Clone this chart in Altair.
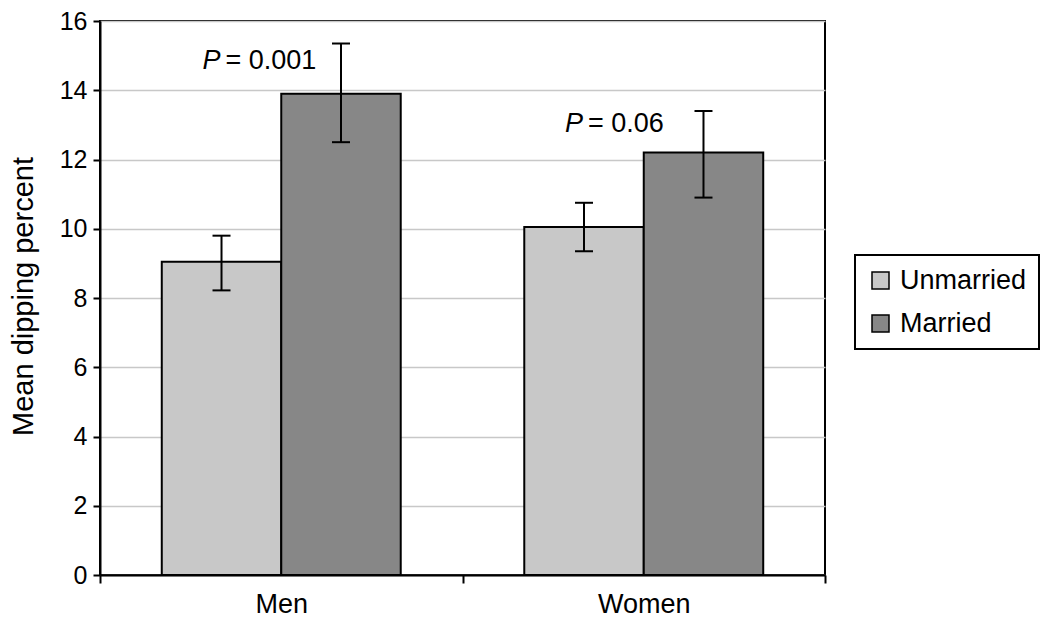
import altair as alt
import pandas as pd

# ---- data ----
groups = ["Men", "Men", "Women", "Women"]
status = ["Unmarried", "Married", "Unmarried", "Married"]
means = [9.05, 13.9, 10.05, 12.2]
lower = [8.22, 12.5, 9.35, 10.9]
upper = [9.8, 15.35, 10.75, 13.4]

p_groups = ["Men", "Women"]
p_status = ["Unmarried", "Unmarried"]
p_letter = ["P", "P"]
p_text = ["= 0.001", "= 0.06"]
p_y = [14.62, 12.8]

group_order = ["Men", "Women"]
status_order = ["Unmarried", "Married"]
colors = ["#c8c8c8", "#878787"]
y_ticks = [0, 2, 4, 6, 8, 10, 12, 14, 16]

df = pd.DataFrame(dict(group=groups, status=status, mean=means, lower=lower, upper=upper))
pdf = pd.DataFrame(dict(group=p_groups, status=p_status, letter=p_letter, text=p_text, y=p_y))

FONT = "Liberation Sans"
YT = "Mean dipping percent"

x_enc = alt.X(
    "group:N",
    sort=group_order,
    title=None,
    scale=alt.Scale(domain=group_order, paddingInner=0, paddingOuter=0),
    axis=alt.Axis(
        tickBand="extent", labelAngle=0, labelFontSize=27, labelFont=FONT,
        labelColor="black", tickSize=8, tickWidth=2, tickColor="black",
        domainColor="black", domainWidth=2, labelPadding=8, grid=False,
    ),
)
xo_enc = alt.XOffset(
    "status:N",
    sort=status_order,
    scale=alt.Scale(domain=status_order, paddingInner=0, paddingOuter=0.517),
)
y_scale = alt.Scale(domain=[0, 16], nice=False)
y_axis = alt.Axis(
    values=y_ticks, title=YT, titleFont=FONT, titleFontSize=29, titleFontWeight="normal",
    titleColor="black", titleAngle=-90, titleX=-68, titleY=275, titleBaseline="alphabetic",
    titleAlign="center",
    labelFont=FONT, labelFontSize=25, labelColor="black", labelPadding=6,
    tickSize=7, tickWidth=2, tickColor="black", domainColor="black", domainWidth=2,
    grid=True, gridColor="#c8c8c8", gridWidth=1.5,
)

base = alt.Chart(df)

bars = base.mark_bar(stroke="black", strokeWidth=2).encode(
    x=x_enc,
    xOffset=xo_enc,
    y=alt.Y("mean:Q", scale=y_scale, axis=y_axis, title=YT),
    color=alt.Color(
        "status:N",
        sort=status_order,
        scale=alt.Scale(domain=status_order, range=colors),
        legend=alt.Legend(
            title=None, orient="none", legendX=755, legendY=234,
            symbolType="square", symbolSize=289, symbolStrokeColor="black",
            symbolStrokeWidth=1.5, labelFont=FONT, labelFontSize=27, labelColor="black",
            fillColor="white", strokeColor="black", padding=12, rowPadding=15,
            labelOffset=6, symbolOpacity=1,
        ),
    ),
)

rules = base.mark_rule(color="black", strokeWidth=2).encode(
    x=alt.X("group:N", sort=group_order),
    xOffset=alt.XOffset("status:N", sort=status_order),
    y=alt.Y("lower:Q", title=YT),
    y2="upper:Q",
)

caps_top = base.mark_tick(color="black", thickness=2, size=18, opacity=1).encode(
    x=alt.X("group:N", sort=group_order),
    xOffset=alt.XOffset("status:N", sort=status_order),
    y=alt.Y("upper:Q", title=YT),
)
caps_bot = base.mark_tick(color="black", thickness=2, size=18, opacity=1).encode(
    x=alt.X("group:N", sort=group_order),
    xOffset=alt.XOffset("status:N", sort=status_order),
    y=alt.Y("lower:Q", title=YT),
)

pchart = alt.Chart(pdf)
p_letter_mark = pchart.mark_text(
    font=FONT, fontSize=27, fontStyle="italic", align="right", baseline="alphabetic",
    dx=-1, color="black",
).encode(
    x=alt.X("group:N", sort=group_order),
    xOffset=alt.XOffset("status:N", sort=status_order),
    y=alt.Y("y:Q", title=YT),
    text="letter:N",
)
p_value_mark = pchart.mark_text(
    font=FONT, fontSize=27, align="left", baseline="alphabetic", dx=4, color="black",
).encode(
    x=alt.X("group:N", sort=group_order),
    xOffset=alt.XOffset("status:N", sort=status_order),
    y=alt.Y("y:Q", title=YT),
    text="text:N",
)

chart = (
    alt.layer(bars, rules, caps_top, caps_bot, p_letter_mark, p_value_mark)
    .properties(
        width=725,
        height=554,
        autosize=alt.AutoSizeParams(type="none"),
        padding={"left": 92, "top": 13, "right": 217, "bottom": 49},
    )
    .configure_view(stroke="black", strokeWidth=2)
    .configure_legend(strokeWidth=2)
)

chart.save("out.html", embed_options={"renderer": "svg", "actions": False})
